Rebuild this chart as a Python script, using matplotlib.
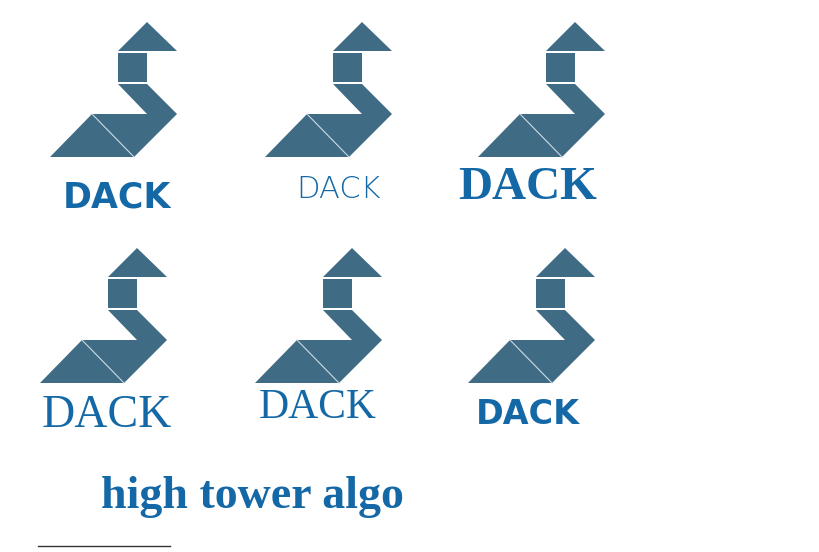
import matplotlib.pyplot as plt
from matplotlib.patches import Polygon

# duck template (pixel coords of first duck)
head = [(147, 22), (118, 51), (177, 51)]
square = [(118, 53), (147, 53), (147, 82), (118, 82)]
neck = [(118, 84), (147, 84), (177, 114), (147, 114)]
body_left = [(50, 157), (92, 114), (134, 157)]
body_right = [(92, 114), (177, 114), (134, 157)]
pieces = [head, square, neck, body_left, body_right]

# duck offsets
dx = [0, 215, 428, -10, 205, 418]
dy = [0, 0, 0, 226, 226, 226]

# labels: x, y, size, family, weight
lab_x = [117, 338, 528, 107, 318, 528]
lab_y = [198, 190, 188, 416, 408, 415]
lab_size = [25, 22, 34, 33, 30, 24]
lab_family = ['DejaVu Sans', 'DejaVu Sans', 'Liberation Serif', 'Liberation Serif',
              'Liberation Serif', 'Liberation Sans Narrow']
lab_weight = ['bold', 'light', 'bold', 'normal', 'normal', 'bold']

duck_c = '#3f6c84'
text_c = '#1468a6'

f = plt.figure(figsize=(8.19, 5.52), dpi=100)
ax = f.add_axes([0, 0, 1, 1])
ax.set_xlim(0, 819)
ax.set_ylim(552, 0)
ax.axis('off')

for ox, oy in zip(dx, dy):
    for p in pieces:
        pts = [(x + ox, y + oy) for x, y in p]
        ax.add_patch(Polygon(pts, closed=True, facecolor=duck_c, edgecolor='none'))
    # light seam between body triangles
    ax.plot([92 + ox, 134 + ox], [114 + oy, 157 + oy], color='#c8d8e0', lw=0.8)

for x, y, s, fam, w in zip(lab_x, lab_y, lab_size, lab_family, lab_weight):
    ax.text(x, y, 'DACK', fontsize=s, family=[fam, 'DejaVu Sans'], weight=w,
            color=text_c, ha='center', va='center')

ax.text(252, 497, 'high tower algo', fontsize=33, family=['Liberation Serif'],
        weight='bold', color=text_c, ha='center', va='center')
ax.plot([38, 170], [546, 546], color='#333333', lw=1)

plt.savefig('out.png', dpi=100)
